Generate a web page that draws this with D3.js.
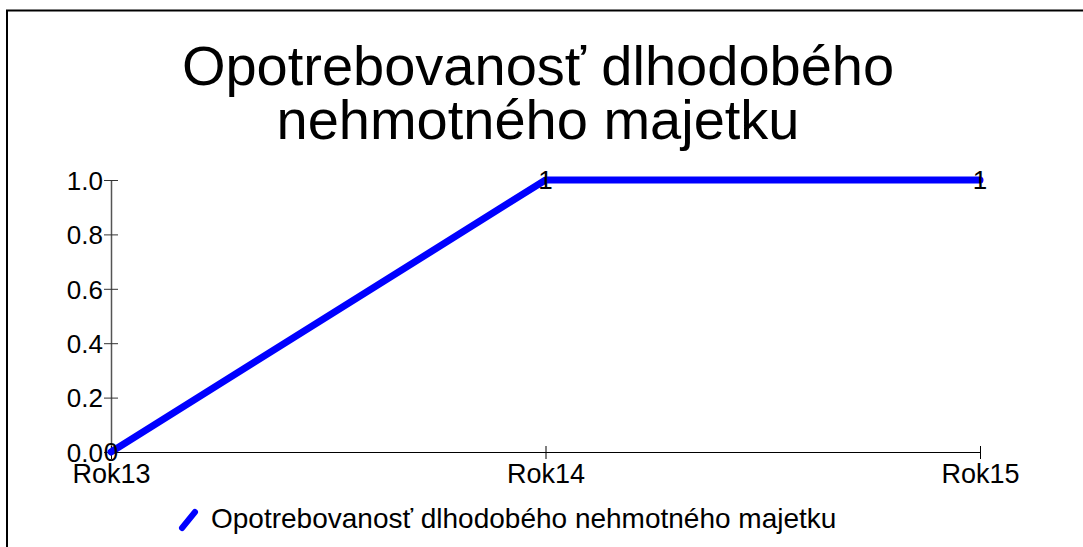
<!DOCTYPE html>
<html>
<head>
<meta charset="utf-8">
<script src="https://cdn.jsdelivr.net/npm/d3@7"></script>
<style>
body { margin: 0; background: #fff; }
svg { display: block; font-family: "Liberation Sans", Arial, sans-serif; }
</style>
</head>
<body>
<svg id="chart"></svg>
<script>
var titleLines = ["Opotrebovanosť dlhodobého", "nehmotného majetku"]
var seriesName = "Opotrebovanosť dlhodobého nehmotného majetku"
var years = ["Rok13", "Rok14", "Rok15"]
var values = [0, 1, 1]
var yTicks = [0, 0.2, 0.4, 0.6, 0.8, 1.0]

var dimensions = {
    width: 1083,
    height: 547,
    margin: { top: 180, bottom: 95, left: 111, right: 103 }
}

var svg = d3.select("#chart")
    .attr("width", dimensions.width)
    .attr("height", dimensions.height)

// frame (only top and left visible in the crop)
svg.append("rect")
    .attr("x", 7).attr("y", 10.5)
    .attr("width", 1200).attr("height", 800)
    .attr("fill", "none")
    .attr("stroke", "#000")
    .attr("stroke-width", 2)

// title
svg.append("g").selectAll("text")
    .data(titleLines)
    .enter()
    .append("text")
    .attr("x", 538)
    .attr("y", (d, i) => 85 + i * 54)
    .attr("text-anchor", "middle")
    .style("font-size", "56px")
    .text(d => d)

var xScale = d3.scalePoint()
    .domain(years)
    .range([dimensions.margin.left, dimensions.width - dimensions.margin.right])

var yScale = d3.scaleLinear()
    .domain([0, 1])
    .range([dimensions.height - dimensions.margin.bottom, dimensions.margin.top])

// y axis
var yAxisGen = d3.axisLeft(yScale)
    .tickValues(yTicks)
    .tickFormat(d3.format(".1f"))
    .tickSizeInner(7)
    .tickSizeOuter(0)
var yAxis = svg.append("g")
    .attr("transform", `translate(${dimensions.margin.left},0)`)
    .call(yAxisGen)
yAxis.select(".domain").attr("stroke", "#555").attr("stroke-width", 1.5)
yAxis.selectAll(".tick line").attr("x2", 7).attr("x1", -7).attr("stroke", "#333")
yAxis.selectAll(".tick text")
    .attr("x", -8)
    .attr("dy", "0.36em")
    .style("font-size", "26px")
    .attr("fill", "#000")

// x axis
var xAxisGen = d3.axisBottom(xScale)
    .tickSizeInner(7)
    .tickSizeOuter(0)
var xAxis = svg.append("g")
    .attr("transform", `translate(0,${dimensions.height - dimensions.margin.bottom})`)
    .call(xAxisGen)
xAxis.select(".domain").attr("stroke", "#000").attr("stroke-width", 1.2)
xAxis.selectAll(".tick line").attr("y1", -6).attr("y2", 7).attr("stroke", "#000")
xAxis.selectAll(".tick text")
    .attr("y", 31)
    .attr("dy", 0)
    .style("font-size", "27px")
    .attr("fill", "#000")

// line
var lineGen = d3.line()
    .x((d, i) => xScale(years[i]))
    .y(d => yScale(d))
svg.append("path")
    .datum(values)
    .attr("d", lineGen)
    .attr("fill", "none")
    .attr("stroke", "#0000ff")
    .attr("stroke-width", 7)
    .attr("stroke-linecap", "round")
    .attr("stroke-linejoin", "round")

// data labels
svg.append("g").selectAll("text")
    .data(values)
    .enter()
    .append("text")
    .attr("x", (d, i) => xScale(years[i]))
    .attr("y", d => yScale(d))
    .attr("dy", "0.36em")
    .attr("text-anchor", "middle")
    .style("font-size", "26px")
    .text(d => d)

// legend
var legend = svg.append("g").attr("transform", "translate(180,520)")
legend.append("line")
    .attr("x1", 2).attr("y1", 8)
    .attr("x2", 15).attr("y2", -8)
    .attr("stroke", "#0000ff")
    .attr("stroke-width", 6)
    .attr("stroke-linecap", "round")
legend.append("text")
    .attr("x", 31)
    .attr("y", 8)
    .style("font-size", "28px")
    .text(seriesName)
</script>
</body>
</html>
